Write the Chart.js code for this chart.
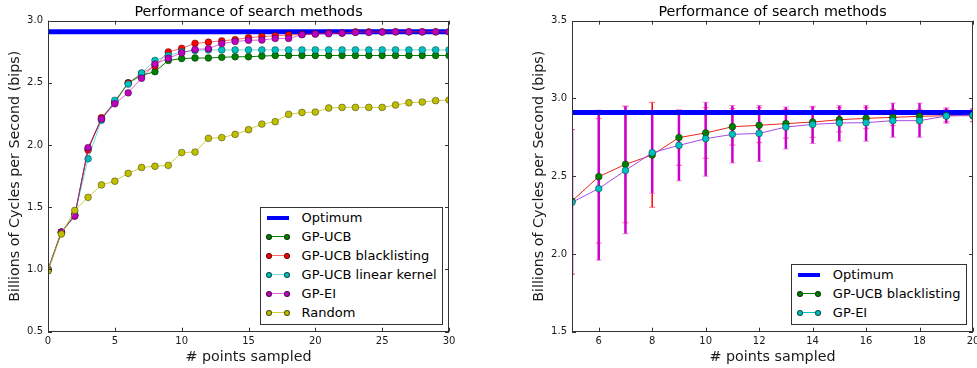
<!DOCTYPE html>
<html>
<head>
<meta charset="utf-8">
<script src="https://cdn.jsdelivr.net/npm/chart.js@4.4.0/dist/chart.umd.min.js"></script>
<style>
  html, body { margin: 0; padding: 0; background: #fff; width: 977px; height: 368px; overflow: hidden; position: relative; }
  .panel { position: absolute; top: 0; height: 368px; }
  #leftPanel  { left: 0;     width: 490px; }
  #rightPanel { left: 490px; width: 500px; }
  .legend {
    position: absolute; background: #fff; border: 1px solid #333;
    font: 13px "DejaVu Sans", sans-serif; color: #000; padding: 0 5px 2px 0;
  }
  .legend .row { position: relative; height: 19px; line-height: 19px; padding-left: 41px; white-space: nowrap; }
  .legend .line { position: absolute; left: 8px; width: 18px; top: 9px; height: 1px; }
  .legend .line.thick { left: 6px; width: 22px; top: 7.5px; height: 4px; }
  .legend .dot {
    position: absolute; top: 6.5px; width: 6px; height: 6px; border-radius: 50%;
    box-sizing: border-box; border: 0.6px solid rgba(0,0,0,0.6);
  }
</style>
</head>
<body>
<div class="panel" id="leftPanel"><canvas id="leftCanvas" width="490" height="368"></canvas></div>
<div class="panel" id="rightPanel"><canvas id="rightCanvas" width="500" height="368"></canvas></div>
<script>
// ─── DATA ──────────────────────────────────────────────
const optimum = 2.91;

// left panel: all methods, 0..30 points sampled
const leftSamples = [0,1,2,3,4,5,6,7,8,9,10,11,12,13,14,15,16,17,18,19,20,21,22,23,24,25,26,27,28,29,30];
const gpUcb       = [1.00,1.30,1.43,1.97,2.21,2.35,2.50,2.56,2.59,2.68,2.695,2.70,2.70,2.705,2.71,2.71,2.715,2.72,2.72,2.72,2.72,2.72,2.72,2.72,2.72,2.72,2.72,2.72,2.72,2.72,2.72];
const gpUcbBlack  = [1.00,1.30,1.44,1.96,2.22,2.34,2.50,2.576,2.636,2.748,2.778,2.818,2.827,2.838,2.848,2.863,2.872,2.878,2.885,2.889,2.893,2.90,2.90,2.91,2.91,2.91,2.91,2.91,2.91,2.91,2.91];
const gpUcbLinear = [1.00,1.30,1.44,1.89,2.20,2.36,2.49,2.58,2.68,2.72,2.75,2.76,2.765,2.765,2.765,2.765,2.765,2.765,2.765,2.765,2.765,2.765,2.765,2.765,2.765,2.765,2.765,2.765,2.765,2.765,2.765];
const gpEi        = [0.99,1.30,1.43,1.98,2.21,2.332,2.42,2.537,2.651,2.698,2.741,2.769,2.775,2.816,2.833,2.842,2.844,2.857,2.857,2.887,2.893,2.895,2.90,2.905,2.905,2.908,2.91,2.91,2.91,2.91,2.91];
const randomSrch  = [0.99,1.285,1.475,1.58,1.68,1.71,1.773,1.82,1.83,1.837,1.94,1.944,2.054,2.06,2.086,2.124,2.169,2.188,2.247,2.262,2.265,2.298,2.303,2.303,2.303,2.303,2.322,2.34,2.346,2.357,2.362];
const leftXTicks  = [0,5,10,15,20,25,30];
const leftYTicks  = [0.5,1.0,1.5,2.0,2.5,3.0];

// right panel: blacklisting vs EI with error bars, 5..20
const rightSamples = [5,6,7,8,9,10,11,12,13,14,15,16,17,18,19,20];
const blMean  = [2.34,2.497,2.576,2.636,2.748,2.778,2.818,2.827,2.838,2.848,2.863,2.872,2.878,2.885,2.889,2.889];
const blLow   = [1.87,2.07,2.20,2.30,2.57,2.615,2.70,2.715,2.745,2.75,2.785,2.805,2.825,2.84,2.85,2.85];
const blHigh  = [2.80,2.87,2.95,2.975,2.925,2.94,2.935,2.94,2.93,2.945,2.94,2.94,2.93,2.93,2.93,2.93];
const eiMean  = [2.332,2.42,2.537,2.651,2.698,2.741,2.769,2.775,2.816,2.833,2.842,2.844,2.857,2.857,2.887,2.893];
const eiLow   = [1.87,1.96,2.13,2.39,2.47,2.50,2.585,2.595,2.675,2.71,2.725,2.725,2.75,2.75,2.84,2.85];
const eiHigh  = [2.80,2.925,2.95,2.91,2.925,2.975,2.955,2.955,2.945,2.95,2.955,2.955,2.97,2.97,2.94,2.935];
const rightXTicks = [6,8,10,12,14,16,18,20];
const rightYTicks = [1.5,2.0,2.5,3.0,3.5];

// ─── STYLE ─────────────────────────────────────────────
const FONT     = '"DejaVu Sans", sans-serif';
const TXT      = '#1a1a1a';
const OPT_BLUE = '#0000ff';

const pts = (xs, ys) => xs.map((x, i) => ({ x, y: ys[i] }));

function serie(label, xs, ys, line, marker, order) {
  return {
    label, data: pts(xs, ys), order,
    borderColor: line, borderWidth: 1,
    pointRadius: 3.4, pointBorderWidth: 0.6,
    pointBackgroundColor: marker, pointBorderColor: 'rgba(0,0,0,0.6)',
    tension: 0, clip: 0,
  };
}

function optSerie(x0, x1) {
  return {
    label: 'Optimum', data: [{ x: x0, y: optimum }, { x: x1, y: optimum }], order: 99,
    borderColor: OPT_BLUE, borderWidth: 5, pointRadius: 0, borderCapStyle: 'butt', clip: 0,
  };
}

// marco + ticks hacia adentro (estilo matplotlib)
const framePlugin = {
  id: 'frame',
  afterDatasetsDraw(chart) {
    const { ctx, chartArea: a, scales: { x, y } } = chart;
    ctx.save();
    ctx.strokeStyle = '#333';
    ctx.lineWidth = 1;
    ctx.beginPath();
    x.ticks.forEach(t => {
      const px = Math.round(x.getPixelForValue(t.value)) + 0.5;
      ctx.moveTo(px, a.bottom); ctx.lineTo(px, a.bottom - 4);
      ctx.moveTo(px, a.top);    ctx.lineTo(px, a.top + 4);
    });
    y.ticks.forEach(t => {
      const py = Math.round(y.getPixelForValue(t.value)) + 0.5;
      ctx.moveTo(a.left, py);  ctx.lineTo(a.left + 4, py);
      ctx.moveTo(a.right, py); ctx.lineTo(a.right - 4, py);
    });
    ctx.stroke();
    ctx.strokeRect(Math.round(a.left) + 0.5, Math.round(a.top) + 0.5,
                   Math.round(a.width) - 1, Math.round(a.height) - 1);
    ctx.restore();
  },
};

// barras de error del panel derecho
const errorBarPlugin = {
  id: 'errorBars',
  beforeDatasetsDraw(chart) {
    const { ctx, chartArea: a, scales: { x, y } } = chart;
    const draw = (lo, hi, color, capColor, width) => {
      rightSamples.forEach((s, i) => {
        const px = x.getPixelForValue(s);
        const yl = y.getPixelForValue(lo[i]);
        const yh = y.getPixelForValue(hi[i]);
        ctx.strokeStyle = color; ctx.lineWidth = width;
        ctx.beginPath(); ctx.moveTo(px, yl); ctx.lineTo(px, yh); ctx.stroke();
        ctx.strokeStyle = capColor; ctx.lineWidth = 1;
        ctx.beginPath();
        ctx.moveTo(px - 3, yl); ctx.lineTo(px + 3, yl);
        ctx.moveTo(px - 3, yh); ctx.lineTo(px + 3, yh);
        ctx.stroke();
      });
    };
    ctx.save();
    ctx.beginPath(); ctx.rect(a.left, a.top, a.width, a.height); ctx.clip();
    draw(blLow, blHigh, '#ff0000', 'rgba(255,40,80,0.7)', 1.5);
    draw(eiLow, eiHigh, '#cc00cc', 'rgba(230,80,220,0.6)', 2.5);
    ctx.restore();
  },
};

function makeScales(xMin, xMax, xTicks, yMin, yMax, yTicks) {
  return {
    x: {
      type: 'linear', min: xMin, max: xMax,
      grid: { display: false, drawTicks: false }, border: { display: false },
      afterBuildTicks: s => { s.ticks = xTicks.map(v => ({ value: v })); },
      afterFit: s => { s.height = 36.3; },
      ticks: { font: { family: FONT, size: 10 }, color: TXT, padding: 4, maxRotation: 0, autoSkip: false,
               callback: v => String(v) },
      title: { display: true, text: '# points sampled', color: TXT,
               font: { family: FONT, size: 14.3 }, padding: { top: 0, bottom: 2 } },
    },
    y: {
      type: 'linear', min: yMin, max: yMax,
      grid: { display: false, drawTicks: false }, border: { display: false },
      afterBuildTicks: s => { s.ticks = yTicks.map(v => ({ value: v })); },
      afterFit: s => { s.width = 48; },
      ticks: { font: { family: FONT, size: 10 }, color: TXT, padding: 5, callback: v => v.toFixed(1) },
      title: { display: true, text: 'Billions of Cycles per Second (bips)', color: TXT,
               font: { family: FONT, size: 14.3 }, padding: { top: 7, bottom: 0 } },
    },
  };
}

function baseOptions(padding, scales) {
  return {
    responsive: false, animation: false,
    layout: { padding },
    plugins: {
      legend: { display: false },
      tooltip: { enabled: false },
      title: {
        display: true, fullSize: false, text: 'Performance of search methods', color: '#000',
        font: { family: FONT, size: 14.3, weight: 'normal' }, padding: { top: 3.5, bottom: 0 },
      },
    },
    scales,
  };
}

// ─── LEFT ──────────────────────────────────────────────
const leftChart = new Chart(document.getElementById('leftCanvas'), {
  type: 'line',
  data: {
    datasets: [
      optSerie(0, 30),
      serie('GP-UCB',               leftSamples, gpUcb,       '#008000',              '#008000', 6),
      serie('GP-UCB blacklisting',  leftSamples, gpUcbBlack,  'rgba(255,0,0,0.6)',    '#ff0000', 5),
      serie('GP-UCB linear kernel', leftSamples, gpUcbLinear, 'rgba(0,191,191,0.55)', '#00bfbf', 4),
      serie('GP-EI',                leftSamples, gpEi,        'rgba(191,0,191,0.6)',  '#bf00bf', 3),
      serie('Random',               leftSamples, randomSrch,  'rgba(191,191,0,0.75)', '#bfbf00', 2),
    ],
  },
  options: baseOptions({ left: 0, right: 41, top: 0, bottom: 0 },
                       makeScales(0, 30, leftXTicks, 0.5, 3.0, leftYTicks)),
  plugins: [framePlugin],
});

// ─── RIGHT ─────────────────────────────────────────────
const rightChart = new Chart(document.getElementById('rightCanvas'), {
  type: 'line',
  data: {
    datasets: [
      optSerie(5, 20),
      serie('GP-UCB blacklisting', rightSamples, blMean, '#e8261c', '#008000', 2),
      serie('GP-EI',               rightSamples, eiMean, '#a64ce6', '#00bfbf', 1),
    ],
  },
  options: baseOptions({ left: 34, right: 17, top: 0, bottom: 0 },
                       makeScales(5, 20, rightXTicks, 1.5, 3.5, rightYTicks)),
  plugins: [errorBarPlugin, framePlugin],
});

// ─── LEGENDS (html) ────────────────────────────────────
function buildLegend(panelId, chart, items) {
  const box = document.createElement('div');
  box.className = 'legend';
  items.forEach(it => {
    const row = document.createElement('div');
    row.className = 'row';
    const line = document.createElement('span');
    line.className = it.thick ? 'line thick' : 'line';
    line.style.background = it.line;
    row.appendChild(line);
    if (!it.thick) {
      [5, 23].forEach(left => {
        const d = document.createElement('span');
        d.className = 'dot';
        d.style.left = left + 'px';
        d.style.background = it.marker;
        row.appendChild(d);
      });
    }
    row.appendChild(document.createTextNode(it.label));
    box.appendChild(row);
  });
  document.getElementById(panelId).appendChild(box);
  const a = chart.chartArea;
  box.style.right  = (chart.width  - a.right  + 6.5) + 'px';
  box.style.bottom = (chart.height - a.bottom + 6.5) + 'px';
}

buildLegend('leftPanel', leftChart, [
  { label: 'Optimum', line: OPT_BLUE, thick: true },
  { label: 'GP-UCB',               line: '#008000',              marker: '#008000' },
  { label: 'GP-UCB blacklisting',  line: 'rgba(255,0,0,0.6)',    marker: '#ff0000' },
  { label: 'GP-UCB linear kernel', line: 'rgba(0,191,191,0.55)', marker: '#00bfbf' },
  { label: 'GP-EI',                line: 'rgba(191,0,191,0.6)',  marker: '#bf00bf' },
  { label: 'Random',               line: 'rgba(191,191,0,0.75)', marker: '#bfbf00' },
]);

buildLegend('rightPanel', rightChart, [
  { label: 'Optimum', line: OPT_BLUE, thick: true },
  { label: 'GP-UCB blacklisting', line: '#008000', marker: '#008000' },
  { label: 'GP-EI',               line: '#00bfbf', marker: '#00bfbf' },
]);
</script>
</body>
</html>
